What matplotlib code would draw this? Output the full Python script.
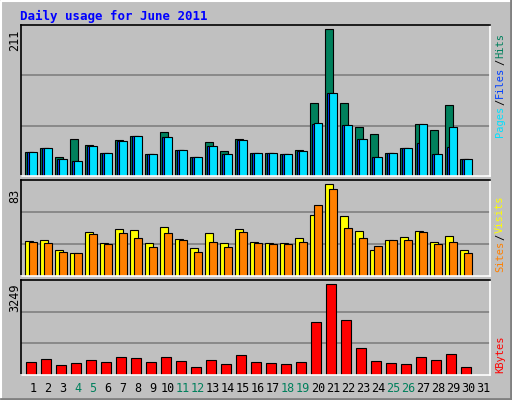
import matplotlib
matplotlib.use("Agg")
import matplotlib.pyplot as plt
import numpy as np

days = [str(i) for i in range(1, 32)]
weekend = {4, 5, 11, 12, 18, 19, 25, 26}
hits = [34,40,27,53,44,33,52,57,32,63,37,27,49,36,53,33,33,32,37,105,211,105,70,60,33,40,75,66,102,24,0]
files = [34,40,24,22,43,33,50,57,32,56,37,27,43,32,52,33,33,32,36,75,119,73,53,27,33,40,47,32,42,24,0]
pages = [34,40,24,22,43,33,50,57,32,56,37,27,43,32,52,33,33,32,36,76,119,73,53,27,33,40,75,32,70,24,0]
visits = [31.6,32.5,23.5,20.8,40,29.8,42.7,41.5,29.8,44.2,33.4,25.3,38.8,29.8,42.7,30.7,29.8,29.8,34.3,55,83,54,40.6,23.5,32.5,35.2,40.6,30.7,36,23.5,0]
sites = [30.7,29.8,21.7,20.8,37.9,28.9,38.8,34.3,26.2,38.8,32.5,21.7,30.7,26.2,39.7,29.8,28.9,28.9,30.7,64,78.5,43.3,34.3,27.1,32.5,32.5,39.7,28.9,30.7,20.8,0]
kbytes = [464,571,357,428,535,464,642,607,464,642,500,286,535,393,714,464,428,393,464,1892,3249,1964,964,500,428,393,642,535,750,286,0]

W, H = 512, 400
fig = plt.figure(figsize=(W/100, H/100), dpi=100)
fig.patch.set_facecolor('#c0c0c0')
mono = 'DejaVu Sans Mono'
x = np.arange(31)

def ax_px(l, t, r, b):
    return fig.add_axes([l/W, 1-b/H, (r-l)/W, (b-t)/H])

bev = fig.add_axes([0, 0, 1, 1]); bev.set_axis_off(); bev.set_xlim(0, W); bev.set_ylim(H, 0)
bev.plot([0.5, 0.5, W-0.5], [H, 0.5, 0.5], color='white', lw=1.5)
bev.plot([0.5, W-1, W-1], [H-1, H-1, 0], color='#808080', lw=2)

def setup(ax, ymax):
    ax.set_facecolor('#c0c0c0')
    ax.set_xlim(-0.27, 31)
    ax.set_ylim(0, ymax)
    ax.set_xticks([]); ax.set_yticks([])
    for yy in (ymax/3, 2*ymax/3):
        ax.axhline(yy, color='#808080', lw=1.2, zorder=0)
    for s in ax.spines.values():
        s.set_color('black'); s.set_linewidth(1.2)
    ax.spines['bottom'].set_color('white'); ax.spines['right'].set_color('white')

kw = dict(align='edge', edgecolor='black', linewidth=0.8)
a1 = ax_px(21, 25, 490, 176)
setup(a1, 217)
a1.bar(x, hits, 0.5, color='#00805c', **kw)
a1.bar(x+0.13, files, 0.5, color='#0040ff', **kw)
a1.bar(x+0.27, pages, 0.5, color='#00e0ff', **kw)

a2 = ax_px(21, 180, 490, 276)
setup(a2, 86.6)
a2.bar(x, visits, 0.55, color='#ffff00', **kw)
a2.bar(x+0.27, sites, 0.5, color='#ff8000', **kw)

a3 = ax_px(21, 280, 490, 375)
setup(a3, 3392)
a3.bar(x+0.07, kbytes, 0.67, color='#ff0000', **kw)

for i, d in enumerate(days):
    fig.text((25+15*i+8)/W, 1-388/H, d, ha='center', va='center', fontsize=8.5,
             family=mono, color='#00805c' if (i+1) in weekend else 'black')

fig.text(20/W, 1-16/H, 'Daily usage for June 2011', color='#0000ff', fontsize=9,
         family=mono, fontweight='bold', va='center')
for y, t in ((40, '211'), (196, '83'), (298, '3249')):
    fig.text(15/W, 1-y/H, t, rotation=90, ha='center', va='center', fontsize=8.5, family=mono)

renderer = fig.canvas.get_renderer()

def right_label(parts, ybot, fs=7.5):
    y = ybot
    for t, c in parts:
        txt = fig.text(500/W, 1-y/H, t, rotation=90, ha='center', va='bottom',
                       fontsize=fs, family=mono, color=c)
        bb = txt.get_window_extent(renderer)
        y -= bb.height + 1
right_label([('Pages', '#00e0ff'), ('/', 'black'), ('Files', '#0040ff'),
             ('/', 'black'), ('Hits', '#00805c')], 137)
right_label([('Sites', '#ff8000'), ('/', 'black'), ('Visits', '#ffff00')], 272)
right_label([('KBytes', '#ff0000')], 373)

fig.savefig('out.png', dpi=100, facecolor=fig.get_facecolor())
